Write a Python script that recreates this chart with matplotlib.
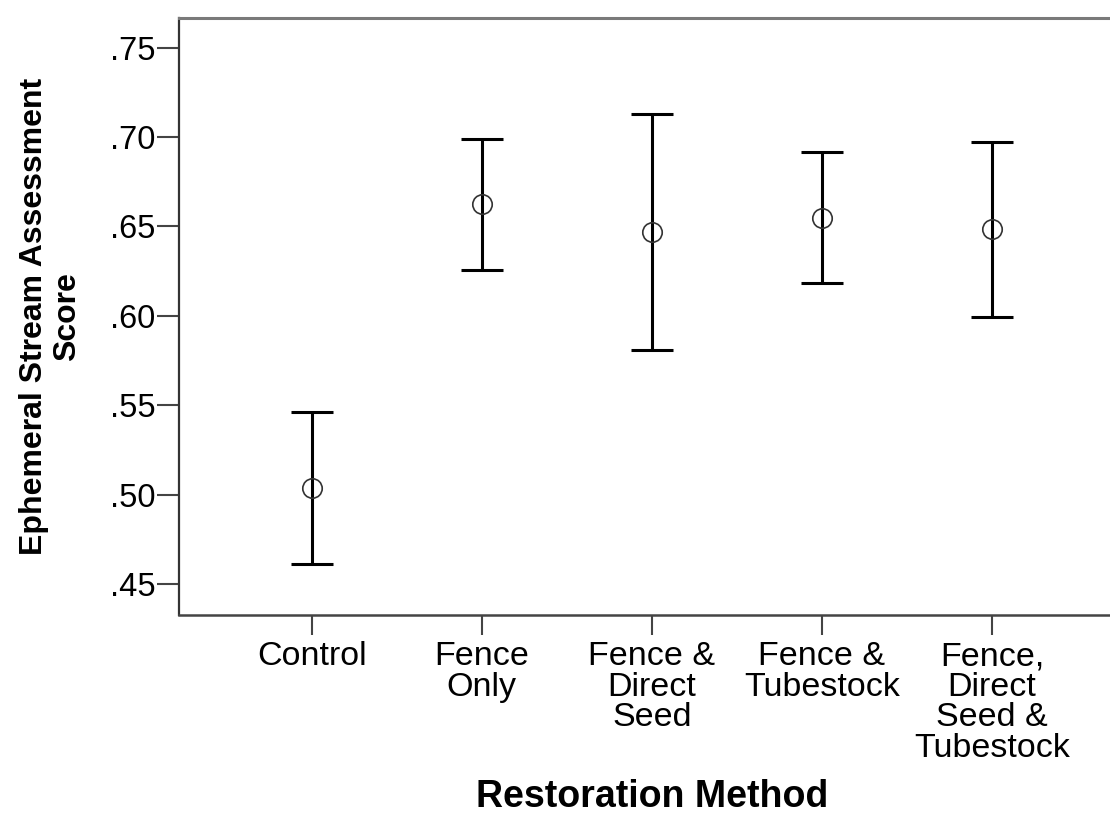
import matplotlib
matplotlib.use("Agg")
import matplotlib.pyplot as plt

plt.rcParams['font.family'] = ['Liberation Sans', 'DejaVu Sans']

# data (mean and 95% CI bounds)
methods = ["Control", "Fence\nOnly", "Fence &\nDirect\nSeed", "Fence &\nTubestock",
           "Fence,\nDirect\nSeed &\nTubestock"]
means = [0.504, 0.6624, 0.6468, 0.655, 0.6485]
ci_low = [0.4615, 0.6257, 0.581, 0.6184, 0.5994]
ci_high = [0.5465, 0.699, 0.7129, 0.6915, 0.6974]
yticks = [0.45, 0.50, 0.55, 0.60, 0.65, 0.70, 0.75]
ytick_labels = [".45", ".50", ".55", ".60", ".65", ".70", ".75"]

fig = plt.figure(figsize=(11.1, 8.19), dpi=100)
# axes runs past the right edge of the picture, like the original export
ax = fig.add_axes([0.1615, 0.2491, 0.8517, 0.7286])

x = list(range(len(methods)))
err_lo = [m - lo for m, lo in zip(means, ci_low)]
err_hi = [hi - m for m, hi in zip(means, ci_high)]

ax.errorbar(x, means, yerr=[err_lo, err_hi], fmt='none', ecolor='black',
            elinewidth=2.2, capsize=15.4, capthick=2.2, zorder=2)
ax.plot(x, means, 'o', markersize=14, markerfacecolor='none',
        markeredgecolor='#333333', markeredgewidth=1.2, zorder=3)

ax.set_xlim(-0.779, len(methods) - 1 + 0.779)
ax.set_ylim(0.4328, 0.7664)
ax.set_yticks(yticks)
ax.set_yticklabels(ytick_labels)
ax.set_xticks(x)
ax.set_xticklabels(methods, linespacing=0.98)

ax.tick_params(axis='y', length=15.5, width=1.5, color='#444444', pad=1.5,
               labelsize=23.5)
ax.tick_params(axis='x', length=14.5, width=1.5, color='#444444', pad=4.5,
               labelsize=24.5)

ax.spines['right'].set_visible(False)
ax.spines['top'].set_color('#7a7a7a')
ax.spines['top'].set_linewidth(2.2)
ax.spines['left'].set_color('#333333')
ax.spines['left'].set_linewidth(1.6)
ax.spines['bottom'].set_color('#444444')
ax.spines['bottom'].set_linewidth(1.8)

ax.set_xlabel("Restoration Method", fontsize=27, fontweight='bold', labelpad=11)
ax.set_ylabel("Ephemeral Stream Assessment\nScore", fontsize=23,
              fontweight='bold', linespacing=1.15, labelpad=20)

fig.savefig("out.png", dpi=100)
